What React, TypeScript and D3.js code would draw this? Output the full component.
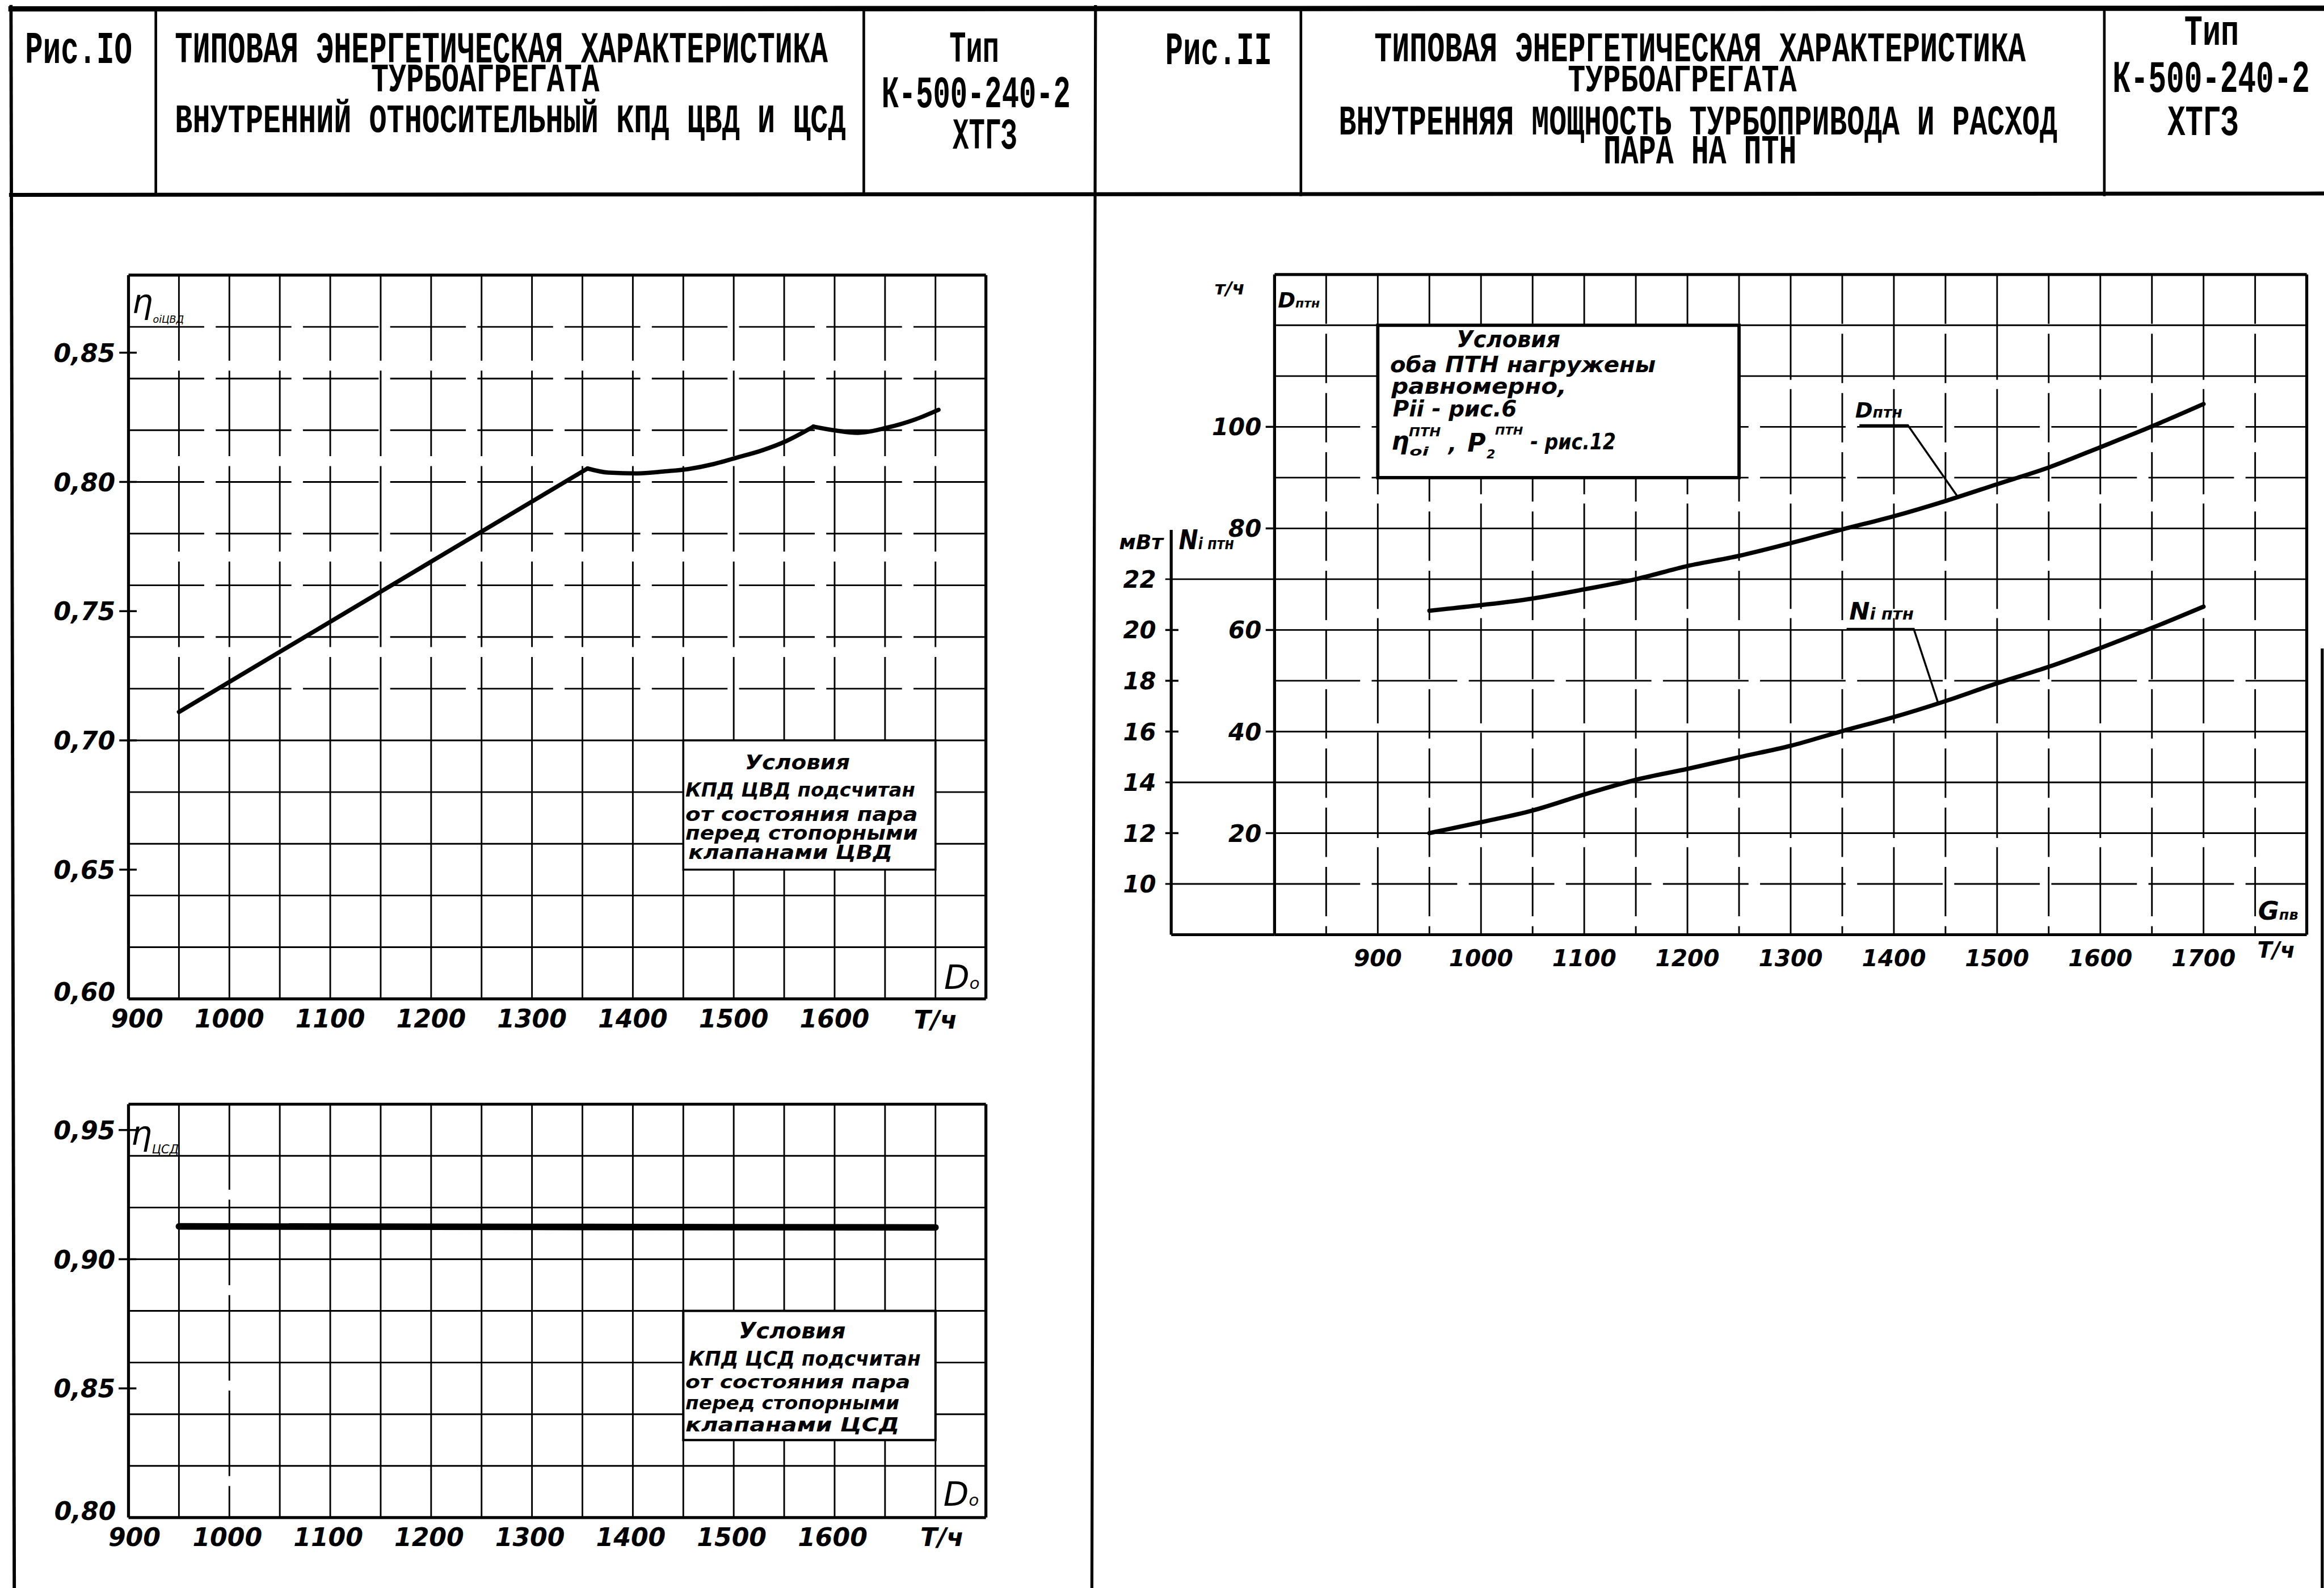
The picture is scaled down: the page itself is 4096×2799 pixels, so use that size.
import React from "react";
import * as d3 from "d3";

// ---------- DATA ----------
// Рис.10 (верх): внутренний относительный КПД ЦВД в зависимости от D0, т/ч
const hpFlow = [950, 1355, 1376, 1404, 1432, 1455, 1480, 1502, 1528, 1552, 1579, 1601, 1623, 1652, 1680, 1703];
const hpEff = [0.711, 0.8052, 0.8036, 0.8033, 0.8041, 0.805, 0.8069, 0.8093, 0.8122, 0.8158, 0.8214, 0.8199, 0.819, 0.821, 0.8242, 0.8279];
const hpKinks = [1, 10];

// Рис.10 (низ): КПД ЦСД
const ipFlow = [950, 1300, 1700];
const ipEff = [0.9127, 0.9125, 0.9123];

// Рис.11: расход пара и мощность турбопривода ПТН в зависимости от Gпв, т/ч
const fwFlow = [950, 1000, 1050, 1100, 1150, 1200, 1250, 1300, 1350, 1400, 1450, 1500, 1550, 1600, 1650, 1700];
const pumpSteam = [63.8, 64.9, 66.2, 68.0, 70.0, 72.6, 74.6, 77.1, 79.8, 82.4, 85.4, 88.7, 92.0, 96.0, 100.1, 104.5];
const pumpPower = [12.0, 12.43, 12.89, 13.52, 14.1, 14.53, 14.99, 15.44, 16.02, 16.57, 17.2, 17.9, 18.55, 19.29, 20.08, 20.92];

// tick labels
const flowTicksLeft = [900, 1000, 1100, 1200, 1300, 1400, 1500, 1600];
const hpEffTicks = [0.85, 0.8, 0.75, 0.7, 0.65, 0.6];
const ipEffTicks = [0.95, 0.9, 0.85, 0.8];
const flowTicksRight = [900, 1000, 1100, 1200, 1300, 1400, 1500, 1600, 1700];
const steamTicks = [20, 40, 60, 80, 100];
const powerTicks = [10, 12, 14, 16, 18, 20, 22];

// ---------- STYLE ----------
const HAND = "'DejaVu Sans', sans-serif";
const TYPE = "'Liberation Mono', 'DejaVu Sans Mono', monospace";
const INK = "#000";

const fmtEff = (v: number) => d3.format(".2f")(v).replace(".", ",");

function HT(p: any) {
  // typewriter header text: monospaced font sized to the width, stretched vertically to the cap height
  const n = Array.from(p.t as string).length;
  const size = p.len / (n * 0.6);
  const sy = p.cap / (0.58 * size);
  return (
    <text transform={`translate(${p.x},${p.y}) scale(1,${sy.toFixed(3)})`} fontFamily={TYPE} fontWeight="bold"
      fontSize={size.toFixed(2)} textLength={p.len} lengthAdjust="spacingAndGlyphs" fill={INK}>{p.t}</text>
  );
}

function Hand(p: any) {
  return (
    <text x={p.x} y={p.y} fontFamily={HAND} fontStyle="italic" fontWeight={p.bold ? "bold" : "normal"}
      fontSize={p.size || 62} textAnchor={p.anchor || "start"} textLength={p.len}
      lengthAdjust={p.len ? "spacingAndGlyphs" : undefined} fill={INK}>{p.t}</text>
  );
}

export default function App() {
  const W = 7060, H = 4825;
  const xL = d3.scaleLinear().domain([900, 1750]).range([390, 2995]);
  const yHp = d3.scaleLinear().domain([0.6, 0.88]).range([3035, 836]);
  const yIp = d3.scaleLinear().domain([0.8, 0.96]).range([4611, 3355]);
  const xR = d3.scaleLinear().domain([800, 1800]).range([3872, 7008]);
  const yD = d3.scaleLinear().domain([0, 130]).range([2840, 834]);
  const yN = d3.scaleLinear().domain([8, 34]).range([2840, 834]);

  const leftV = d3.range(900, 1751, 50);
  const hpH = d3.range(30, 45).map((k) => k / 50);
  const ipH = d3.range(40, 49).map((k) => k / 50);
  const rightV = d3.range(800, 1801, 50);
  const rightH = d3.range(0, 131, 10);

  // HP curve in pieces (sharp corners at kinks)
  const hpPts: [number, number][] = hpFlow.map((f, i) => [xL(f), yHp(hpEff[i])]);
  const bounds = [0, ...hpKinks, hpPts.length - 1];
  const hpPaths: string[] = [];
  for (let i = 0; i < bounds.length - 1; i++) {
    const pts = hpPts.slice(bounds[i], bounds[i + 1] + 1);
    const c = pts.length <= 2 ? d3.curveLinear : d3.curveMonotoneX;
    hpPaths.push(d3.line().curve(c)(pts) as string);
  }
  const ipPath = d3.line()(ipFlow.map((f, i) => [xL(f), yIp(ipEff[i])] as [number, number])) as string;
  const steamPath = d3.line().curve(d3.curveMonotoneX)(fwFlow.map((f, i) => [xR(f), yD(pumpSteam[i])] as [number, number])) as string;
  const powerPath = d3.line().curve(d3.curveMonotoneX)(fwFlow.map((f, i) => [xR(f), yN(pumpPower[i])] as [number, number])) as string;

  const steamAt = d3.scaleLinear().domain(fwFlow).range(pumpSteam);
  const powerAt = d3.scaleLinear().domain(fwFlow).range(pumpPower);

  const gridW = 5;
  const frameW = 9;

  return (
    <svg width={4096} height={2799} viewBox={`0 0 ${W} ${H}`}
      style={{ position: "absolute", left: 0, top: 0, background: "#fff" }}>
      <rect x={0} y={0} width={W} height={H} fill="#fff" />

      {/* ---------- page frame & header ---------- */}
      <g stroke={INK} strokeLinecap="square">
        <line x1={33} y1={20} x2={43} y2={H} strokeWidth={10} />
        <line x1={3328} y1={20} x2={3317} y2={H} strokeWidth={9} />
        <line x1={7055} y1={1975} x2={7055} y2={H} strokeWidth={9} />
        <line x1={33} y1={27} x2={W} y2={25} strokeWidth={16} />
        <line x1={33} y1={592} x2={W} y2={588} strokeWidth={12} />
        <line x1={473} y1={27} x2={473} y2={592} strokeWidth={8} />
        <line x1={2624} y1={27} x2={2624} y2={592} strokeWidth={8} />
        <line x1={3952} y1={27} x2={3952} y2={592} strokeWidth={8} />
        <line x1={6393} y1={27} x2={6393} y2={592} strokeWidth={8} />
      </g>

      <HT x={76} y={191} len={325} cap={80} t="Рис.IO" />
      <HT x={531} y={189} len={1984} cap={78} t="ТИПОВАЯ ЭНЕРГЕТИЧЕСКАЯ ХАРАКТЕРИСТИКА" />
      <HT x={1127} y={278} len={694} cap={70} t="ТУРБОАГРЕГАТА" />
      <HT x={531} y={402} len={2038} cap={70} t="ВНУТРЕННИЙ ОТНОСИТЕЛЬНЫЙ КПД ЦВД И ЦСД" />
      <HT x={2884} y={188} len={151} cap={77} t="Тип" />
      <HT x={2678} y={325} len={574} cap={80} t="К-500-240-2" />
      <HT x={2894} y={452} len={196} cap={77} t="ХТГЗ" />

      <HT x={3540} y={195} len={324} cap={82} t="Рис.II" />
      <HT x={4175} y={186} len={1979} cap={75} t="ТИПОВАЯ ЭНЕРГЕТИЧЕСКАЯ ХАРАКТЕРИСТИКА" />
      <HT x={4763} y={278} len={695} cap={68} t="ТУРБОАГРЕГАТА" />
      <HT x={4067} y={408} len={2183} cap={74} t="ВНУТРЕННЯЯ МОЩНОСТЬ ТУРБОПРИВОДА И РАСХОД" />
      <HT x={4871} y={497} len={587} cap={72} t="ПАРА НА ПТН" />
      <HT x={6636} y={136} len={166} cap={76} t="Тип" />
      <HT x={6418} y={279} len={599} cap={80} t="К-500-240-2" />
      <HT x={6585} y={411} len={216} cap={76} t="ХТГЗ" />

      {/* ---------- Рис.10 верх: ηoi ЦВД ---------- */}
      <g stroke={INK} fill="none">
        {hpH.map((v) => (
          <line key={"hh" + v} x1={xL(900)} x2={xL(1750)} y1={yHp(v)} y2={yHp(v)}
            strokeWidth={v < 0.601 || v > 0.879 ? frameW : gridW}
            strokeDasharray={v > 0.71 && v < 0.879 ? "230 35" : undefined} />
        ))}
        {leftV.map((f) => (
          <g key={"hv" + f}>
            <line x1={xL(f)} x2={xL(f)} y1={yHp(0.88)} y2={yHp(0.72)}
              strokeWidth={f === 900 || f === 1750 ? frameW : gridW}
              strokeDasharray={f === 900 || f === 1750 ? undefined : "260 30"} />
            <line x1={xL(f)} x2={xL(f)} y1={yHp(0.72)} y2={yHp(0.6)}
              strokeWidth={f === 900 || f === 1750 ? frameW : gridW} />
          </g>
        ))}
        {hpEffTicks.slice(0, 5).map((v) => (
          <line key={"ht" + v} x1={362} x2={415} y1={yHp(v)} y2={yHp(v)} strokeWidth={6} />
        ))}
      </g>
      {/* conditions box */}
      <rect x={xL(1450)} y={yHp(0.7)} width={xL(1700) - xL(1450)} height={yHp(0.65) - yHp(0.7)}
        fill="#fff" stroke={INK} strokeWidth={6} />
      <Hand x={2263} y={2338} len={319} size={62} bold t="Условия" />
      <Hand x={2082} y={2420} len={698} size={58} bold t="КПД ЦВД подсчитан" />
      <Hand x={2082} y={2494} len={706} size={58} bold t="от состояния пара" />
      <Hand x={2082} y={2552} len={706} size={58} bold t="перед стопорными" />
      <Hand x={2091} y={2610} len={620} size={58} bold t="клапанами ЦВД" />

      <g fill="none" stroke={INK} strokeWidth={13} strokeLinejoin="round" strokeLinecap="round">
        {hpPaths.map((d, i) => <path key={"hp" + i} d={d} />)}
      </g>

      {hpEffTicks.map((v) => (
        <Hand key={"hl" + v} x={350} y={v < 0.61 ? yHp(v) + 5 : yHp(v) + 28} anchor="end" size={76} bold t={fmtEff(v)} />
      ))}
      {flowTicksLeft.map((f) => (
        <Hand key={"hx" + f} x={f === 900 ? xL(f) + 26 : xL(f)} y={3122} anchor="middle" size={76} bold t={String(f)} />
      ))}
      <Hand x={xL(1700)} y={3125} anchor="middle" size={76} bold t="Т/ч" />
      <text x={401} y={952} fontFamily={HAND} fontStyle="italic" fontSize={100} fill={INK}>η
        <tspan fontSize={30} dy={28}>оiЦВД</tspan></text>
      <text x={2868} y={3005} fontFamily={HAND} fontStyle="italic" fontSize={100} fill={INK}>D
        <tspan fontSize={50}>o</tspan></text>

      {/* ---------- Рис.10 низ: η ЦСД ---------- */}
      <g stroke={INK} fill="none">
        {ipH.map((v) => (
          <line key={"ih" + v} x1={xL(900)} x2={xL(1750)} y1={yIp(v)} y2={yIp(v)}
            strokeWidth={v < 0.801 || v > 0.959 ? frameW : gridW} />
        ))}
        {leftV.map((f) => (
          <line key={"iv" + f} x1={xL(f)} x2={xL(f)} y1={yIp(0.96)} y2={yIp(0.8)}
            strokeWidth={f === 900 || f === 1750 ? frameW : gridW}
            strokeDasharray={f === 1000 ? "260 30" : undefined} />
        ))}
        {ipEffTicks.slice(0, 3).map((v) => (
          <line key={"it" + v} x1={360} x2={414} y1={yIp(v)} y2={yIp(v)} strokeWidth={6} />
        ))}
      </g>
      <rect x={xL(1450)} y={yIp(0.88)} width={xL(1700) - xL(1450)} height={yIp(0.83) - yIp(0.88)}
        fill="#fff" stroke={INK} strokeWidth={7} />
      <Hand x={2244} y={4066} len={325} size={66} bold t="Условия" />
      <Hand x={2092} y={4150} len={705} size={62} bold t="КПД ЦСД подсчитан" />
      <Hand x={2082} y={4218} len={683} size={56} bold t="от состояния пара" />
      <Hand x={2082} y={4282} len={650} size={56} bold t="перед стопорными" />
      <Hand x={2082} y={4350} len={650} size={58} bold t="клапанами ЦСД" />

      <path d={ipPath} fill="none" stroke={INK} strokeWidth={20} strokeLinecap="round" />

      {ipEffTicks.map((v) => (
        <Hand key={"il" + v} x={v < 0.81 ? 352 : 350} y={v < 0.81 ? yIp(v) + 8 : yIp(v) + 28} anchor="end" size={76} bold t={fmtEff(v)} />
      ))}
      {flowTicksLeft.map((f) => (
        <Hand key={"ix" + f} x={f === 900 ? xL(f) + 18 : xL(f) - 6} y={4697} anchor="middle" size={76} bold t={String(f)} />
      ))}
      <Hand x={xL(1700) + 20} y={4697} anchor="middle" size={76} bold t="Т/ч" />
      <text x={398} y={3478} fontFamily={HAND} fontStyle="italic" fontSize={100} fill={INK}>η
        <tspan fontSize={36} dy={26}>ЦСД</tspan></text>
      <text x={2866} y={4575} fontFamily={HAND} fontStyle="italic" fontSize={100} fill={INK}>D
        <tspan fontSize={50}>o</tspan></text>

      {/* ---------- Рис.11 ---------- */}
      <g stroke={INK} fill="none">
        {rightH.map((v) => (
          <line key={"rh" + v} x1={xR(800)} x2={xR(1800)} y1={yD(v)} y2={yD(v)}
            strokeWidth={v === 0 || v === 130 ? frameW : gridW}
            strokeDasharray={[100, 90, 50, 10].includes(v) ? "260 35" : undefined} />
        ))}
        {rightV.map((f) => (
          <line key={"rv" + f} x1={xR(f)} x2={xR(f)} y1={yD(130)} y2={yD(0)}
            strokeWidth={f === 800 || f === 1800 ? frameW : gridW}
            strokeDasharray={f === 800 || f === 1800 ? undefined : (f / 50) % 2 === 1 ? "150 30" : "320 28"} />
        ))}
        {/* N axis */}
        <line x1={3558} x2={3558} y1={yN(22) - 150} y2={yN(8)} strokeWidth={frameW} />
        <line x1={3558} x2={xR(800)} y1={yN(8)} y2={yN(8)} strokeWidth={frameW} />
        {powerTicks.map((v) =>
          v === 10 || v === 14 || v === 22 ? (
            <line key={"pt" + v} x1={3540} x2={xR(800)} y1={yN(v)} y2={yN(v)} strokeWidth={gridW} />
          ) : (
            <line key={"pt" + v} x1={3540} x2={3580} y1={yN(v)} y2={yN(v)} strokeWidth={6} />
          )
        )}
        {steamTicks.map((v) => (
          <line key={"st" + v} x1={3845} x2={xR(800)} y1={yD(v)} y2={yD(v)} strokeWidth={6} />
        ))}
      </g>
      <rect x={xR(900)} y={yD(120)} width={xR(1250) - xR(900)} height={yD(90) - yD(120)}
        fill="#fff" stroke={INK} strokeWidth={10} />
      <Hand x={4425} y={1055} len={315} size={70} bold t="Условия" />
      <Hand x={4223} y={1130} len={807} size={68} bold t="оба ПТН нагружены" />
      <Hand x={4227} y={1197} len={532} size={68} bold t="равномерно," />
      <Hand x={4231} y={1265} len={377} size={66} bold t="Pіі - рис.6" />
      <Hand x={4227} y={1366} size={76} bold t="η" />
      <Hand x={4280} y={1326} len={97} size={36} bold t="ПТН" />
      <Hand x={4282} y={1384} len={58} size={38} bold t="оі" />
      <Hand x={4400} y={1370} size={66} bold t="," />
      <Hand x={4458} y={1372} size={76} bold t="P" />
      <Hand x={4542} y={1320} len={85} size={34} bold t="ПТН" />
      <Hand x={4516} y={1392} size={38} bold t="2" />
      <Hand x={4649} y={1366} len={260} size={66} bold t="- рис.12" />

      <g fill="none" stroke={INK} strokeWidth={13} strokeLinecap="round">
        <path d={steamPath} />
        <path d={powerPath} />
      </g>

      {/* leaders */}
      <g fill="none" stroke={INK} strokeWidth={6}>
        <polyline points={`5649,1292 5796,1292 ${xR(1462)},${yD(steamAt(1462))}`} />
        <polyline points={`5610,1911 5814,1911 ${xR(1443)},${yN(powerAt(1443))}`} />
      </g>
      <text x={5636} y={1268} fontFamily={HAND} fontStyle="italic" fontWeight="bold" fontSize={64} fill={INK}>D
        <tspan fontSize={46}>птн</tspan></text>
      <text x={5618} y={1882} fontFamily={HAND} fontStyle="italic" fontWeight="bold" fontSize={74} fill={INK}
        textLength={196} lengthAdjust="spacingAndGlyphs">N<tspan fontSize={50}>і птн</tspan></text>

      {steamTicks.map((v) => (
        <Hand key={"sl" + v} x={3832} y={yD(v) + 26} anchor="end" size={72} bold t={String(v)} />
      ))}
      {powerTicks.map((v) => (
        <Hand key={"pl" + v} x={3462} y={yN(v) + 26} anchor="middle" size={72} bold t={String(v)} />
      ))}
      {flowTicksRight.map((f) => (
        <Hand key={"rx" + f} x={xR(f)} y={2935} anchor="middle" size={70} bold t={String(f)} />
      ))}
      <Hand x={6858} y={2910} size={66} bold t="Т/ч" />
      <Hand x={3690} y={895} size={56} bold t="т/ч" />
      <text x={3882} y={935} fontFamily={HAND} fontStyle="italic" fontWeight="bold" fontSize={64} fill={INK}>D
        <tspan fontSize={38}>птн</tspan></text>
      <Hand x={3400} y={1668} size={62} bold t="мВт" />
      <text x={3581} y={1668} fontFamily={HAND} fontStyle="italic" fontWeight="bold" fontSize={82} fill={INK}
        textLength={168} lengthAdjust="spacingAndGlyphs">N<tspan fontSize={48}>і птн</tspan></text>
      <text x={6860} y={2795} fontFamily={HAND} fontStyle="italic" fontWeight="bold" fontSize={78} fill={INK}>G
        <tspan fontSize={44}>пв</tspan></text>
    </svg>
  );
}
